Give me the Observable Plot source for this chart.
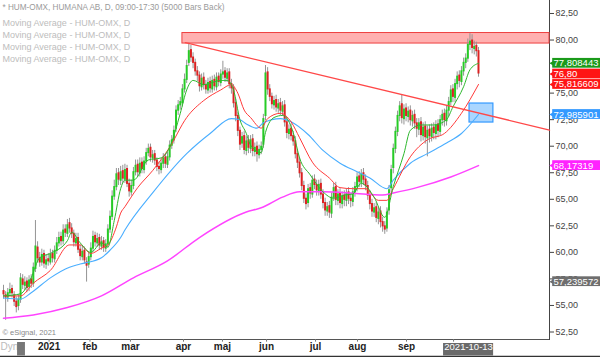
<!DOCTYPE html>
<html><head><meta charset="utf-8">
<script src="https://cdn.jsdelivr.net/npm/d3@7"></script>
<script src="https://cdn.jsdelivr.net/npm/@observablehq/plot@0.6"></script>
<style>html,body{margin:0;padding:0;background:#fff;overflow:hidden}</style>
</head><body><div id="chart"></div>
<script>
// ---- daily candles (bar index 0 = late Nov 2020 ... 223 = 2021-10-13) ----
const openPx = [
56.4,56.0,55.7,56.1,56.6,56.0,55.4,54.9,55.5,57.5,
56.8,57.3,56.7,57.5,57.0,58.4,60.5,59.5,59.0,59.9,
58.8,59.4,59.0,59.9,59.3,60.1,60.8,61.5,61.0,62.2,
61.7,62.8,62.3,61.8,60.8,61.4,60.3,59.5,60.2,59.1,
58.8,59.5,60.3,61.6,60.8,61.4,60.5,61.1,60.3,60.7,
62.1,63.3,65.2,66.1,67.5,66.7,67.7,66.8,67.9,66.5,
65.6,66.2,67.5,68.3,67.4,68.5,67.7,68.5,69.3,69.9,
68.8,69.3,68.7,68.1,67.7,68.3,69.0,68.2,68.9,70.0,
70.5,71.6,73.3,73.8,74.0,75.3,76.2,77.8,79.1,78.4,
77.9,77.1,76.7,75.5,76.5,75.8,75.2,76.1,75.3,76.3,
75.5,76.6,75.9,76.7,77.1,76.3,77.0,75.9,75.5,74.1,
72.9,71.5,70.2,71.0,69.5,70.6,69.7,70.7,69.4,70.0,
69.1,69.6,70.1,72.8,77.0,75.4,74.7,73.8,74.4,73.5,
74.1,73.2,73.9,72.3,71.1,71.7,71.0,70.5,69.3,68.5,
67.5,66.3,65.1,64.6,66.1,65.4,66.9,66.4,65.7,66.5,
65.5,64.7,63.8,64.4,63.6,65.1,66.2,64.8,65.6,64.5,
65.4,64.8,65.7,65.1,64.7,65.6,66.1,67.2,66.5,67.5,
66.9,66.3,65.4,64.6,63.7,64.3,63.1,63.9,62.9,62.5,
62.2,63.9,66.0,67.9,69.7,71.3,72.8,74.0,72.5,73.6,
72.7,73.4,72.3,73.0,72.2,71.5,72.3,70.9,71.9,70.7,
71.6,70.8,71.8,71.1,72.1,71.3,72.4,73.1,72.3,73.3,
74.1,75.4,74.5,75.8,76.7,76.0,77.0,77.8,78.2,79.5,
80.0,79.1,79.5,79.0];
const highPx = [
56.9,56.3,56.6,57.1,56.9,56.3,55.8,56.0,58.0,57.9,
57.7,57.6,57.8,57.9,59.0,63.0,61.0,60.0,60.3,60.2,
59.8,59.9,60.3,60.2,60.6,61.4,61.9,61.9,62.6,62.6,
63.1,63.2,62.7,62.1,61.8,61.8,60.7,60.6,60.5,59.5,
60.0,60.9,62.0,61.9,61.8,61.7,61.5,61.4,61.2,62.6,
63.9,65.8,66.8,67.9,67.9,68.1,68.2,68.3,68.2,66.9,
66.8,68.0,68.7,68.7,68.9,68.9,69.0,69.8,70.2,70.2,
69.6,69.6,68.9,68.5,68.8,69.3,69.3,69.4,70.5,71.0,
71.9,73.8,74.3,74.6,75.8,76.8,78.1,79.7,79.5,78.8,
78.2,77.5,77.0,76.8,76.9,76.2,76.4,76.5,76.6,76.7,
76.9,76.9,77.2,78.0,77.4,77.3,77.3,76.3,75.8,74.4,
73.2,71.8,71.3,71.4,70.9,71.0,71.0,71.1,70.3,70.4,
70.1,70.4,73.0,77.6,77.4,75.8,75.0,74.7,74.8,74.4,
74.5,74.2,74.3,72.7,72.0,72.1,71.4,70.9,69.7,68.9,
67.9,66.7,65.5,66.4,66.5,67.2,67.3,66.8,66.8,66.9,
65.9,65.1,64.7,64.8,65.6,66.5,66.6,65.9,66.0,65.7,
65.8,66.0,66.1,65.5,66.1,66.6,67.5,67.6,67.8,67.9,
67.3,66.7,65.8,65.0,64.6,64.7,64.2,64.3,63.3,62.9,
64.2,66.3,68.2,70.2,71.8,73.3,74.2,74.8,73.9,74.0,
73.7,73.8,73.3,73.4,72.6,72.6,72.7,72.2,72.3,71.9,
72.0,72.1,72.2,72.4,72.5,72.9,73.4,73.5,73.8,74.6,
75.7,75.8,76.3,77.0,77.1,77.5,78.3,78.7,80.1,80.6,
80.5,79.9,79.8,79.3];
const lowPx = [
55.6,53.6,55.3,55.8,55.7,54.9,54.3,54.5,55.2,56.5,
56.4,56.2,56.3,56.6,56.7,58.1,59.0,58.6,58.7,58.5,
58.4,58.7,58.8,59.0,59.0,59.8,60.5,60.6,60.7,61.4,
61.4,61.8,61.3,60.5,60.5,59.9,59.2,59.2,58.9,57.2,
58.5,59.2,60.0,60.5,60.5,60.2,60.2,60.0,60.0,60.4,
61.8,63.0,64.9,65.8,66.3,66.3,66.5,66.5,66.1,65.2,
65.3,65.9,67.2,67.1,67.1,67.4,67.4,68.2,69.0,68.5,
68.4,68.2,67.6,67.3,67.4,67.9,67.9,67.9,68.6,69.7,
70.2,71.3,72.9,73.4,73.7,75.0,75.9,77.5,77.9,77.3,
76.6,76.1,75.1,75.2,75.3,74.9,74.9,75.0,75.0,75.2,
75.2,75.6,75.6,76.3,76.0,76.0,75.4,74.9,73.6,72.3,
70.9,69.6,69.8,69.2,69.1,69.3,69.3,69.0,69.0,68.5,
68.8,69.2,69.8,72.4,74.8,74.2,73.5,73.4,73.2,73.1,
72.9,72.8,71.8,70.7,70.6,70.5,70.0,68.8,67.9,67.0,
65.8,64.6,64.0,64.2,65.0,65.1,65.9,65.3,65.3,65.0,
64.1,63.4,63.4,63.2,63.2,64.8,64.4,64.4,64.1,64.1,
64.3,64.3,64.5,64.2,64.3,65.2,65.7,66.1,66.1,66.3,
65.8,64.9,64.0,63.3,63.3,62.8,62.6,62.3,61.9,61.7,
61.9,63.5,65.6,67.4,69.3,70.9,72.3,72.1,72.0,72.3,
72.2,71.9,71.8,71.6,70.8,71.0,70.4,70.5,70.2,69.0,
70.3,70.4,70.6,70.6,70.8,71.0,71.9,71.8,71.9,72.8,
73.8,74.1,74.1,75.3,75.5,75.7,76.6,77.3,77.9,79.0,
78.7,78.6,78.4,76.5];
const closePx = [
56.0,55.7,56.2,56.5,56.1,55.3,54.8,55.6,57.6,56.9,
57.2,56.6,57.4,57.0,58.6,60.6,59.4,59.0,59.8,58.9,
59.3,59.1,59.8,59.4,60.2,60.9,61.4,61.0,62.1,61.8,
62.6,62.2,61.7,60.9,61.3,60.2,59.6,60.1,59.2,58.7,
59.6,60.4,61.5,60.9,61.3,60.6,61.0,60.4,60.8,62.2,
63.4,65.3,66.2,67.4,66.8,67.6,66.9,67.8,66.4,65.7,
66.3,67.6,68.2,67.5,68.4,67.8,68.6,69.4,69.8,68.9,
69.2,68.6,68.0,67.8,68.4,68.9,68.3,69.0,70.1,70.6,
71.5,73.4,73.9,74.2,75.4,76.3,77.6,79.0,78.3,77.8,
77.0,76.6,75.6,76.4,75.7,75.3,76.0,75.4,76.2,75.6,
76.5,76.0,76.8,77.0,76.4,76.9,75.8,75.4,74.0,72.8,
71.4,70.1,70.9,69.6,70.5,69.8,70.6,69.5,69.9,69.2,
69.7,70.0,72.6,76.9,75.3,74.6,73.9,74.3,73.6,74.0,
73.3,73.8,72.2,71.2,71.6,70.9,70.4,69.2,68.4,67.4,
66.2,65.0,64.5,66.0,65.5,66.8,66.3,65.8,66.4,65.4,
64.6,63.9,64.3,63.7,65.2,66.1,64.9,65.5,64.6,65.3,
64.9,65.6,65.0,64.8,65.7,66.2,67.1,66.6,67.4,66.8,
66.2,65.3,64.5,63.8,64.2,63.2,63.8,62.8,62.4,62.1,
63.8,65.9,67.8,69.8,71.4,72.9,73.8,72.6,73.5,72.8,
73.3,72.4,72.9,72.1,71.6,72.2,71.0,71.8,70.8,71.5,
70.9,71.7,71.2,72.0,71.4,72.5,73.0,72.4,73.4,74.2,
75.3,74.6,75.9,76.6,76.1,77.1,77.9,78.3,79.6,79.9,
79.2,79.4,78.9,76.8];

// ---- moving averages: [bar index, value] ----
const maGreen = [[0,55.9],[8,56.1],[13,57.6],[17,59.5],[22,59.9],[30,61.1],[32,61.9],[36,60.9],[41,60.0],[46,60.9],[49,60.5],[52,63.0],[55,66.0],[57,66.8],[61,66.8],[68,68.7],[74,68.9],[78,69.9],[83,73.1],[86,75.3],[89,76.2],[94,75.8],[102,76.2],[105,76.2],[108,75.3],[111,72.5],[114,71.2],[116,70.1],[121,69.4],[123,71.3],[127,72.7],[131,72.9],[136,71.3],[139,68.9],[144,67.3],[150,65.7],[155,65.1],[160,65.4],[164,65.5],[168,66.5],[174,65.2],[179,63.3],[183,66.2],[188,69.3],[191,71.5],[196,72.0],[202,72.0],[208,72.5],[211,73.7],[216,75.6],[219,77.2],[223,77.808443]];
const maRed = [[0,55.9],[8,55.9],[14,57.1],[22,58.3],[31,60.7],[36,60.7],[41,59.9],[46,60.4],[49,60.7],[53,62.4],[55,63.7],[57,64.3],[63,66.1],[70,67.7],[78,69.9],[86,72.7],[94,74.3],[102,75.3],[107,75.8],[110,75.0],[113,73.4],[116,72.7],[121,71.7],[124,72.6],[130,73.1],[135,72.3],[139,70.8],[145,68.5],[153,67.0],[158,66.1],[164,66.0],[170,66.0],[176,64.9],[180,64.9],[183,66.0],[191,69.0],[199,70.6],[207,71.2],[215,73.1],[223,75.816609]];
const maBlue = [[0,55.7],[8,55.6],[13,56.2],[22,57.6],[31,58.6],[36,58.9],[46,59.5],[50,60.2],[55,61.4],[57,62.1],[70,65.6],[86,69.3],[97,71.2],[107,72.6],[111,72.5],[114,72.1],[119,71.7],[122,72.2],[130,72.6],[135,72.3],[143,71.1],[150,69.6],[158,68.4],[166,67.6],[172,67.0],[180,66.0],[183,66.8],[191,68.4],[199,69.3],[208,70.3],[215,71.2],[223,72.985901]];
const maMagenta = [[0,53.8],[14,54.1],[30,54.8],[46,55.9],[61,57.6],[77,59.2],[92,61.4],[114,63.8],[121,64.2],[131,65.2],[139,65.7],[150,65.7],[163,65.6],[178,65.4],[183,65.6],[194,66.1],[210,67.1],[223,68.17319]];

// ---- drawings ----
const trendLine = [[85.4,79.75],[256.34,71.52]];
const resistanceZone = [{x1:84.0, x2:256.34, lo:79.67, hi:80.66}];
const targetZone = [{x1:218.8, x2:230.0, lo:72.23, hi:74.02}];

// ---- right-hand value flags ----
const flagValues = [77.808443, 76.80, 75.816609, 72.985901, 68.17319, 57.239572];
const flagLabels = ["77,808443","76,80","75,816609","72,985901","68,17319","57,239572"];
const flagColors = ["#1a9a1a","#ff1414","#ff1414","#3399ff","#ff22ff","#6e6e6e"];

// ---- axes / labels ----
const yTicks = [52.5,55,57.5,60,62.5,65,67.5,70,72.5,75,80,82.5];
const monthLabels = ["2021","feb","mar","apr","maj","jun","jul","aug","sep"];
const monthPos = [21.4,40.6,59.6,84.5,102.8,123.5,146.5,166.2,189.2];
const monthTicks = [21.4,40.6,59.6,84.5,102.8,123.5,146.5,166.2,189.2,211.3];
const headerLine = "* HUM-OMX, HUMANA AB, D, 09:00-17:30 (5000 Bars Back)";
const maLines = ["Moving Average - HUM-OMX, D","Moving Average - HUM-OMX, D","Moving Average - HUM-OMX, D","Moving Average - HUM-OMX, D"];
const lastDate = "2021-10-13";

const xDomain = [-1.41, 256.34];
const yDomain = [51.794, 83.724];

const bars = closePx.map((c, i) => ({i, o: openPx[i], h: highPx[i], l: lowPx[i], c}));
const upBars = bars.filter(d => d.c >= d.o);
const downBars = bars.filter(d => d.c < d.o);
const flags = flagValues.map((v, k) => ({v, label: flagLabels[k], color: flagColors[k]}));
const px = 2.13; // pixels per bar (for margin decorations)

const chart = Plot.plot({
  width: 600, height: 357,
  marginLeft: 0, marginRight: 51, marginTop: 0, marginBottom: 18,
  style: {fontFamily: "'Liberation Sans', Arial, sans-serif", fontSize: "9px", color: "#444", background: "#fff"},
  color: {type: "identity"},
  x: {domain: xDomain, axis: null},
  y: {domain: yDomain, axis: "right", ticks: yTicks, tickFormat: d => d.toFixed(2).replace(".", ","), tickSize: 4, tickPadding: 2, line: true, label: null},
  marks: [
    Plot.rect(resistanceZone, {x1: "x1", x2: "x2", y1: "lo", y2: "hi", fill: "#ffb0b0", stroke: "#ee4040", strokeWidth: 1}),
    Plot.rect(targetZone, {x1: "x1", x2: "x2", y1: "lo", y2: "hi", fill: "#aad6ff", stroke: "#3399ff", strokeWidth: 1.2}),
    Plot.ruleX(bars, {x: "i", y1: "l", y2: "h", stroke: "#949494", strokeWidth: 1}),
    Plot.ruleX(upBars, {x: "i", y1: "o", y2: "c", stroke: "#26cc26", strokeWidth: 2}),
    Plot.ruleX(downBars, {x: "i", y1: "o", y2: "c", stroke: "#dc2222", strokeWidth: 2}),
    Plot.line(maMagenta, {x: d => d[0], y: d => d[1], stroke: "#ff44ff", strokeWidth: 1.5, curve: "monotone-x"}),
    Plot.line(maBlue, {x: d => d[0], y: d => d[1], stroke: "#4aaeff", strokeWidth: 1.1, curve: "monotone-x"}),
    Plot.line(maRed, {x: d => d[0], y: d => d[1], stroke: "#ff3a3a", strokeWidth: 1, curve: "monotone-x"}),
    Plot.line(maGreen, {x: d => d[0], y: d => d[1], stroke: "#2db82d", strokeWidth: 1, curve: "monotone-x"}),
    Plot.line(trendLine, {x: d => d[0], y: d => d[1], stroke: "#ff4848", strokeWidth: 1.4}),
    // bottom frame lines
    Plot.ruleY([yDomain[0]], {x1: xDomain[0], x2: xDomain[1], stroke: "#555", strokeWidth: 1}),
    Plot.ruleY([yDomain[0] - 17 / 10.617], {x1: xDomain[0], x2: xDomain[0] + 600 / px, stroke: "#333", strokeWidth: 1.5}),
    Plot.ruleX(monthTicks, {x: d => d, y1: yDomain[0], y2: yDomain[0] - 0.25, stroke: "#777"}),
    // value flags
    Plot.rect(flags, {x1: xDomain[1] + 1.5, x2: xDomain[1] + 30, y1: d => d.v - 0.46, y2: d => d.v + 0.46, fill: "color"}),
    Plot.dot(flags, {x: xDomain[1] + 2.1, y: "v", symbol: "triangle", r: 3, rotate: -90, fill: "color", stroke: null}),
    Plot.text(flags, {x: xDomain[1] + 1.9, y: "v", text: "label", fill: "white", textAnchor: "start", fontSize: 9.5}),
    // header texts
    Plot.text([headerLine], {frameAnchor: "top-left", dx: 2, dy: 4, lineAnchor: "top", textAnchor: "start", text: d => d, fill: "#9a9a9a", fontSize: 8.2}),
    Plot.text([maLines.join("\n")], {frameAnchor: "top-left", dx: 2, dy: 17, lineAnchor: "top", lineHeight: 1.345, textAnchor: "start", text: d => d, fill: "#bdbdbd", fontSize: 9}),
    Plot.text(["© eSignal, 2021"], {frameAnchor: "bottom-left", dx: 2, dy: -5, textAnchor: "start", text: d => d, fill: "#888", fontSize: 7.5}),
    // time axis labels
    Plot.text(monthLabels, {x: (d, k) => monthPos[k], frameAnchor: "bottom", dy: 10, text: d => d, fontWeight: "bold", fontSize: 10, fill: "#222"}),
    Plot.text(["Dyn"], {frameAnchor: "bottom-left", dx: 0, dy: 10, textAnchor: "start", text: d => d, fill: "#bbb", fontSize: 10}),
    Plot.rect([{a: 6.6, b: 10.3}], {x1: "a", x2: "b", y1: yDomain[0] - 3 / 10.617, y2: yDomain[0] - 16.5 / 10.617, fill: "#777"}),
    Plot.rect([lastDate], {x1: 206.6, x2: 230.1, y1: yDomain[0] - 4 / 10.617, y2: yDomain[0] - 16.5 / 10.617, fill: "#6a6a6a"}),
    Plot.text([lastDate], {x: 218.35, frameAnchor: "bottom", dy: 10, text: d => d, fill: "white", fontSize: 9.5})
  ]
});
document.getElementById("chart").appendChild(chart);
</script>
</body></html>
